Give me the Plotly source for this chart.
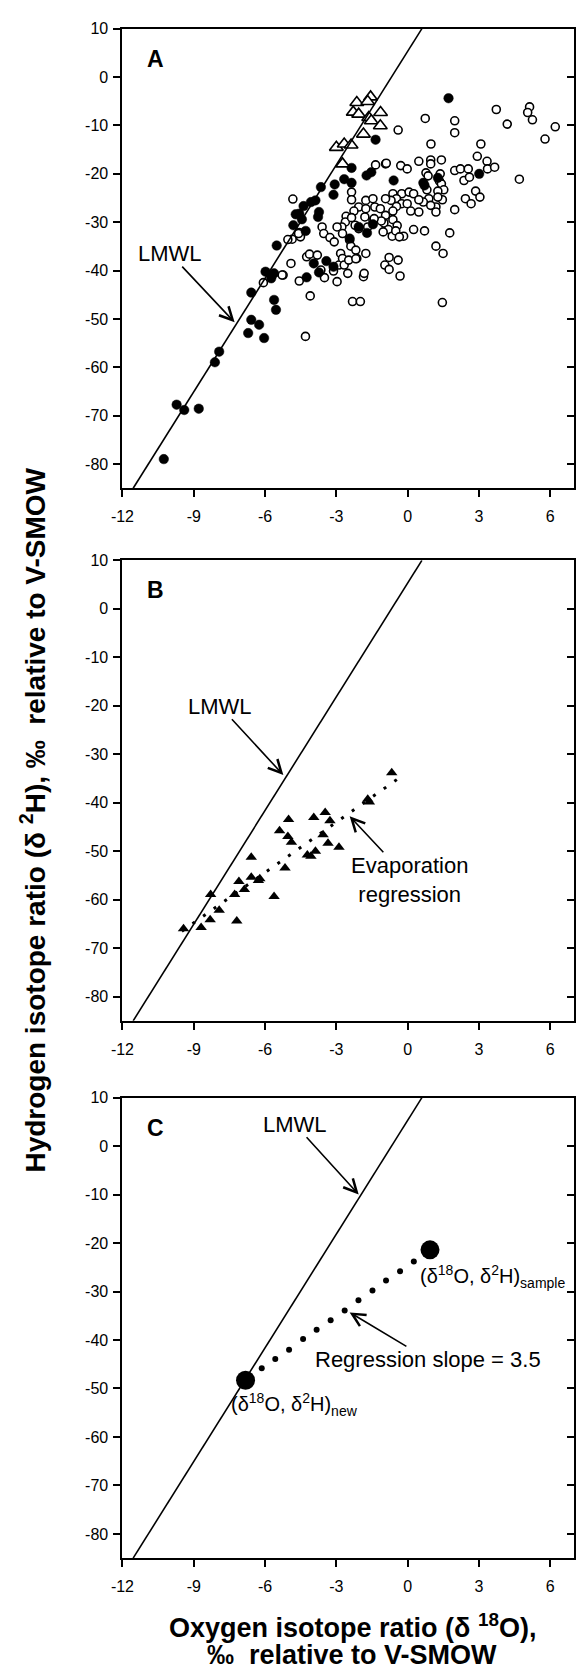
import plotly.graph_objects as go

# ---------------- data ----------------
x_tickvals = [-12, -9, -6, -3, 0, 3, 6]
x_ticktext = ["-12", "-9", "-6", "-3", "0", "3", "6"]
y_tickvals = [10, 0, -10, -20, -30, -40, -50, -60, -70, -80]
y_ticktext = ["10", "0", "-10", "-20", "-30", "-40", "-50", "-60", "-70", "-80"]

# Local meteoric water line (end points)
lmwl_x = [-11.55, 0.6]
lmwl_y = [-85.0, 10.0]

# Panel A - filled circles
a_fill_x = [-10.26, -9.72, -9.40, -8.79, -8.11, -7.93, -6.71, -6.58, -6.25, -6.04, -6.58, -5.98,
            -5.74, -5.62, -5.62, -5.54, -5.51, -4.81, -4.71, -4.56, -4.45, -4.29, -4.38, -4.07,
            -3.88, -3.73, -3.77, -3.65, -3.07, -3.12, -2.67, -2.36, -2.36, -1.73, -1.53, -1.35,
            -0.59, 0.66, 1.72, 3.01, -3.42, -3.95, -4.25, -3.73, -3.12, -2.44, -2.06, -1.71,
            -1.46, 0.71, 1.27]
a_fill_y = [-78.97, -67.72, -68.82, -68.55, -58.95, -56.76, -52.92, -50.18, -51.20, -53.95, -44.56, -40.24,
            -41.61, -40.58, -46.07, -48.12, -34.83, -30.64, -28.38, -28.25, -29.41, -31.81, -26.67, -25.85,
            -25.50, -27.90, -28.93, -22.76, -22.21, -24.34, -21.12, -18.79, -21.87, -20.36, -19.68, -12.96,
            -21.39, -21.87, -4.39, -20.02, -38.05, -38.53, -41.41, -40.38, -39.21, -33.39, -30.99, -32.22,
            -30.44, -22.42, -20.84]

# Panel A - open circles
a_open_x = [-4.83, -0.93, -0.40, 0.74, 1.98, 1.98, 3.73, 4.19, 5.13, 5.05, 5.25, 6.21, 5.78, 0.98,
            3.08, 2.93, 3.34, 3.36, 3.66, 4.70, -0.29, -0.02, 0.47, 0.97, 0.97, 1.42, 0.77, 0.86,
            1.37, 1.98, 2.22, 2.55, 2.37, 2.60, -1.35, -0.90, 1.34, 1.42, 1.52, 0.81, 0.89, 0.66,
            1.27, 1.46, 1.27, 1.19, 0.97, 1.19, 1.98, 2.43, 2.67, 2.86, 3.04, -2.36, -2.36, -2.06,
            -1.76, -1.46, -1.38, -1.15, -0.62, -0.25, 0.06, 0.25, -0.47, -0.25, -0.70, -0.47, -0.93,
            -0.62, -0.62, -1.00, -0.81, -0.65, -0.44, -0.50, -0.17, 0.13, 0.47, 0.25, 0.71, -2.26,
            -2.59, -2.62, -2.77, -2.36, -2.21, -2.06, -1.80, -1.46, -1.68, -1.76, -1.11, -3.60, -3.53,
            -3.27, -3.09, -2.97, -2.74, -2.44, -2.39, -2.18, -2.14, -4.86, -4.56, -4.51, -5.04, -5.24,
            -4.91, -4.56, -4.25, -4.13, -3.80, -4.10, -3.65, -3.50, -3.12, -2.97, -2.89, -2.82, -2.74,
            -2.67, -2.52, -2.48, -2.18, -1.86, -1.83, -2.32, -1.99, -0.96, -0.78, -0.78, -0.40, -0.32,
            1.19, 1.49, 1.77, 1.46, -4.30, -0.35, -1.03, -6.07, -5.28, 0.47, -4.59, -1.41, -0.02,
            -0.93, -1.76]
a_open_y = [-25.23, -17.96, -10.97, -8.57, -9.05, -11.52, -6.72, -9.74, -6.18, -7.34, -8.85, -10.29, -12.82, -13.85,
            -13.85, -16.39, -17.42, -18.99, -18.65, -21.12, -18.31, -18.99, -17.42, -17.14, -17.96, -17.14, -19.81, -20.43,
            -20.02, -19.33, -18.99, -18.99, -21.39, -20.71, -18.17, -17.83, -21.53, -22.08, -23.31, -23.31, -25.16, -25.85,
            -23.58, -25.37, -24.82, -26.87, -26.53, -27.90, -27.42, -25.16, -26.19, -23.58, -24.82, -23.79, -25.37, -26.87,
            -25.50, -25.16, -26.87, -27.22, -24.13, -24.13, -23.79, -24.13, -25.16, -26.19, -25.50, -26.74, -28.59,
            -27.70, -29.48, -30.16, -31.53, -32.91, -30.71, -31.81, -32.91, -27.70, -27.90, -31.53, -31.81, -27.70,
            -28.79, -29.96, -30.99, -29.07, -30.64, -31.33, -28.93, -29.62, -30.99, -36.47, -29.75, -30.99, -32.36,
            -33.18, -34.07, -30.99, -32.36, -33.73, -34.96, -35.78, -37.50, -33.52, -32.15, -33.04, -33.59, -40.93,
            -38.53, -42.16, -37.16, -36.61, -36.81, -45.24, -39.90, -41.47, -40.10, -42.30, -38.87, -36.47, -37.50,
            -38.87, -40.58, -37.84, -37.57, -41.27, -40.58, -46.41, -46.41, -38.87, -37.29, -39.76, -37.84, -41.13,
            -34.96, -36.47, -32.22, -46.61, -53.61, -33.04, -32.01, -42.50, -40.93, -25.37, -32.36, -29.27, -26.19,
            -25.16, -27.22]

# Panel A - open triangles
a_tri_x = [-2.14, -1.56, -1.68, -2.29, -2.06, -1.64, -1.53, -1.14, -1.15, -1.86, -3.00, -2.67, -2.38, -2.74]
a_tri_y = [-5.28, -4.12, -5.08, -7.27, -7.68, -8.37, -9.05, -7.34, -10.08, -11.80, -14.54, -13.85, -14.06, -17.96]

# Panel B - filled triangles
b_tri_x = [-9.43, -8.69, -8.31, -8.29, -7.93, -7.28, -7.19, -7.10, -6.87, -6.58, -6.58, -6.28, -6.22,
           -5.62, -5.39, -5.16, -5.01, -5.04, -4.89, -4.22, -4.07, -3.95, -3.88, -3.47, -3.56, -3.27,
           -3.35, -2.89, -1.68, -1.61, -0.67]
b_tri_y = [-65.98, -65.77, -64.13, -58.93, -62.21, -58.93, -64.40, -56.26, -57.90, -51.26, -55.37, -56.05, -55.71,
           -59.34, -45.78, -53.45, -43.46, -46.95, -48.18, -50.78, -51.05, -43.05, -50.03, -42.02, -46.61, -43.73,
           -48.38, -49.21, -39.28, -39.83, -33.80]

# Panel B - evaporation regression line (end points)
b_reg_x = [-9.5, -0.3]
b_reg_y = [-66.5, -34.7]

# Panel C - sample and new compositions
c_big_x = [-6.82, 0.94]
c_big_y = [-48.3, -21.4]
# Panel C - evaporation path dots
c_dot_x = [-6.14, -5.57, -4.99, -4.40, -3.83, -3.24, -2.65, -2.07, -1.48, -0.91, -0.32, 0.26]
c_dot_y = [-45.8, -43.9, -42.0, -39.8, -37.9, -35.9, -33.9, -31.8, -29.8, -27.7, -25.8, -23.8]

# ---------------- figure ----------------
FONT = "Liberation Sans, Arial, Helvetica, sans-serif"
W, H = 576, 1670
x_dom = [113 / W, 575 / W]
panels = {  # top/bottom pixel of each plot area
    "A": (20.7, 482.6),
    "B": (555.0, 1017.7),
    "C": (1094.9, 1557.6),
}

fig = go.Figure()

def add_axes(i, top, bottom):
    sx = "" if i == 1 else str(i)
    dom_y = [1 - bottom / H, 1 - top / H]
    fig.layout["xaxis" + sx] = dict(
        domain=x_dom, range=[-12, 7], anchor="y" + sx,
        tickmode="array", tickvals=x_tickvals, ticktext=x_ticktext,
        showline=True, linecolor="black", linewidth=2, mirror=True,
        ticks="outside", ticklen=7, tickwidth=1.5, tickcolor="black",
        showgrid=False, zeroline=False, ticklabelstandoff=6,
        tickfont=dict(family=FONT, size=16, color="black"),
    )
    fig.layout["yaxis" + sx] = dict(
        domain=dom_y, range=[-85, 10], anchor="x" + sx,
        tickmode="array", tickvals=y_tickvals, ticktext=y_ticktext,
        showline=True, linecolor="black", linewidth=2, mirror=True,
        ticks="outside", ticklen=7, tickwidth=1.5, tickcolor="black",
        showgrid=False, zeroline=False, ticklabelstandoff=2,
        tickfont=dict(family=FONT, size=16, color="black"),
    )
    # right-hand axis carrying inside ticks
    j = i + 3
    fig.layout["yaxis" + str(j)] = dict(
        range=[-85, 10], overlaying="y" + sx, side="right", anchor="x" + sx,
        tickmode="array", tickvals=y_tickvals, showticklabels=False,
        ticks="inside", ticklen=7, tickwidth=1.5, tickcolor="black",
        showline=False, showgrid=False, zeroline=False,
    )
    fig.add_trace(go.Scatter(x=lmwl_x, y=lmwl_y, xaxis="x" + sx, yaxis="y" + str(j),
                             mode="lines", line=dict(color="black", width=1.6),
                             showlegend=False, hoverinfo="skip"))

for i, key in enumerate(["A", "B", "C"], start=1):
    add_axes(i, *panels[key])

# Panel A points
fig.add_trace(go.Scatter(x=a_open_x, y=a_open_y, mode="markers", xaxis="x", yaxis="y",
                         marker=dict(symbol="circle", size=8, color="white",
                                     line=dict(color="black", width=1.6)), showlegend=False))
fig.add_trace(go.Scatter(x=a_fill_x, y=a_fill_y, mode="markers", xaxis="x", yaxis="y",
                         marker=dict(symbol="circle", size=9.5, color="black",
                                     line=dict(color="black", width=0.5)), showlegend=False))
fig.add_trace(go.Scatter(x=a_tri_x, y=a_tri_y, mode="markers", xaxis="x", yaxis="y",
                         marker=dict(symbol="triangle-up", size=12, color="white",
                                     line=dict(color="black", width=1.6)), showlegend=False))

# Panel B
fig.add_trace(go.Scatter(x=b_reg_x, y=b_reg_y, mode="lines", xaxis="x2", yaxis="y2",
                         line=dict(color="black", width=3, dash="3px,10px"), showlegend=False))
fig.add_trace(go.Scatter(x=b_tri_x, y=b_tri_y, mode="markers", xaxis="x2", yaxis="y2",
                         marker=dict(symbol="triangle-up", size=10, color="black"), showlegend=False))

# Panel C
fig.add_trace(go.Scatter(x=c_dot_x, y=c_dot_y, mode="markers", xaxis="x3", yaxis="y3",
                         marker=dict(symbol="circle", size=6, color="black"), showlegend=False))
fig.add_trace(go.Scatter(x=c_big_x, y=c_big_y, mode="markers", xaxis="x3", yaxis="y3",
                         marker=dict(symbol="circle", size=19, color="black"), showlegend=False))

# ---------------- annotations ----------------
ann = []
for sx, lab in [("", "A"), ("2", "B"), ("3", "C")]:
    ann.append(dict(x=-10.6, y=3.8, xref="x" + sx, yref="y" + sx, text="<b>%s</b>" % lab,
                    showarrow=False, font=dict(family=FONT, size=23, color="black")))

def arrow_label(sx, txt, text_pos, tip):
    """Text centred at text_pos, with an arrow from the text box to tip."""
    return dict(x=tip[0], y=tip[1], ax=text_pos[0], ay=text_pos[1], xref="x" + sx, yref="y" + sx,
                axref="x" + sx, ayref="y" + sx, text=txt, showarrow=True,
                arrowhead=5, arrowsize=1.6, arrowwidth=1.6, arrowcolor="black",
                standoff=0, startstandoff=0, borderpad=0,
                font=dict(family=FONT, size=22, color="black"))

def label(sx, x, y, txt, xanchor="center", size=22):
    return dict(x=x, y=y, xref="x" + sx, yref="y" + sx, text=txt, showarrow=False,
                xanchor=xanchor, font=dict(family=FONT, size=size, color="black"))

# A
ann.append(arrow_label("", "LMWL", (-10.0, -36.5), (-7.28, -50.7)))
# B
ann.append(arrow_label("2", "LMWL", (-7.9, -20.1), (-5.23, -34.3)))
ann.append(arrow_label("2", "Evaporation<br>regression", (0.06, -55.9), (-2.44, -42.8)))
# C
ann.append(arrow_label("3", "LMWL", (-4.75, 4.5), (-2.06, -10.0)))
ann.append(arrow_label("3", "Regression slope = 3.5", (0.86, -44.0), (-2.44, -34.3)))
ann.append(label("3", 0.45, -26.9, "(δ<sup>18</sup>O, δ<sup>2</sup>H)<sub>sample</sub>", "left", 20))
ann.append(label("3", -7.5, -53.4, "(δ<sup>18</sup>O, δ<sup>2</sup>H)<sub>new</sub>", "left", 20))

# axis titles
ann.append(dict(x=22 / W, y=1 - 816 / H, xref="paper", yref="paper", showarrow=False,
                textangle=-90, xanchor="center", yanchor="middle",
                text="<b>Hydrogen isotope ratio (δ <sup>2</sup>H), ‰\u00a0\u00a0relative to V-SMOW</b>",
                font=dict(family=FONT, size=28, color="black")))
ann.append(dict(x=348 / W, y=1 - 1626 / H, xref="paper", yref="paper", showarrow=False,
                xanchor="center", yanchor="middle",
                text="<b>Oxygen isotope ratio (δ <sup>18</sup>O),</b>",
                font=dict(family=FONT, size=27, color="black")))
ann.append(dict(x=348 / W, y=1 - 1655 / H, xref="paper", yref="paper", showarrow=False,
                xanchor="center", yanchor="middle",
                text="<b>‰\u00a0\u00a0relative to V-SMOW</b>",
                font=dict(family=FONT, size=27, color="black")))

fig.update_layout(
    width=W, height=H, margin=dict(l=0, r=0, t=0, b=0),
    paper_bgcolor="white", plot_bgcolor="white",
    annotations=ann, showlegend=False,
    font=dict(family=FONT, color="black"),
)

fig.write_html("out.html")
